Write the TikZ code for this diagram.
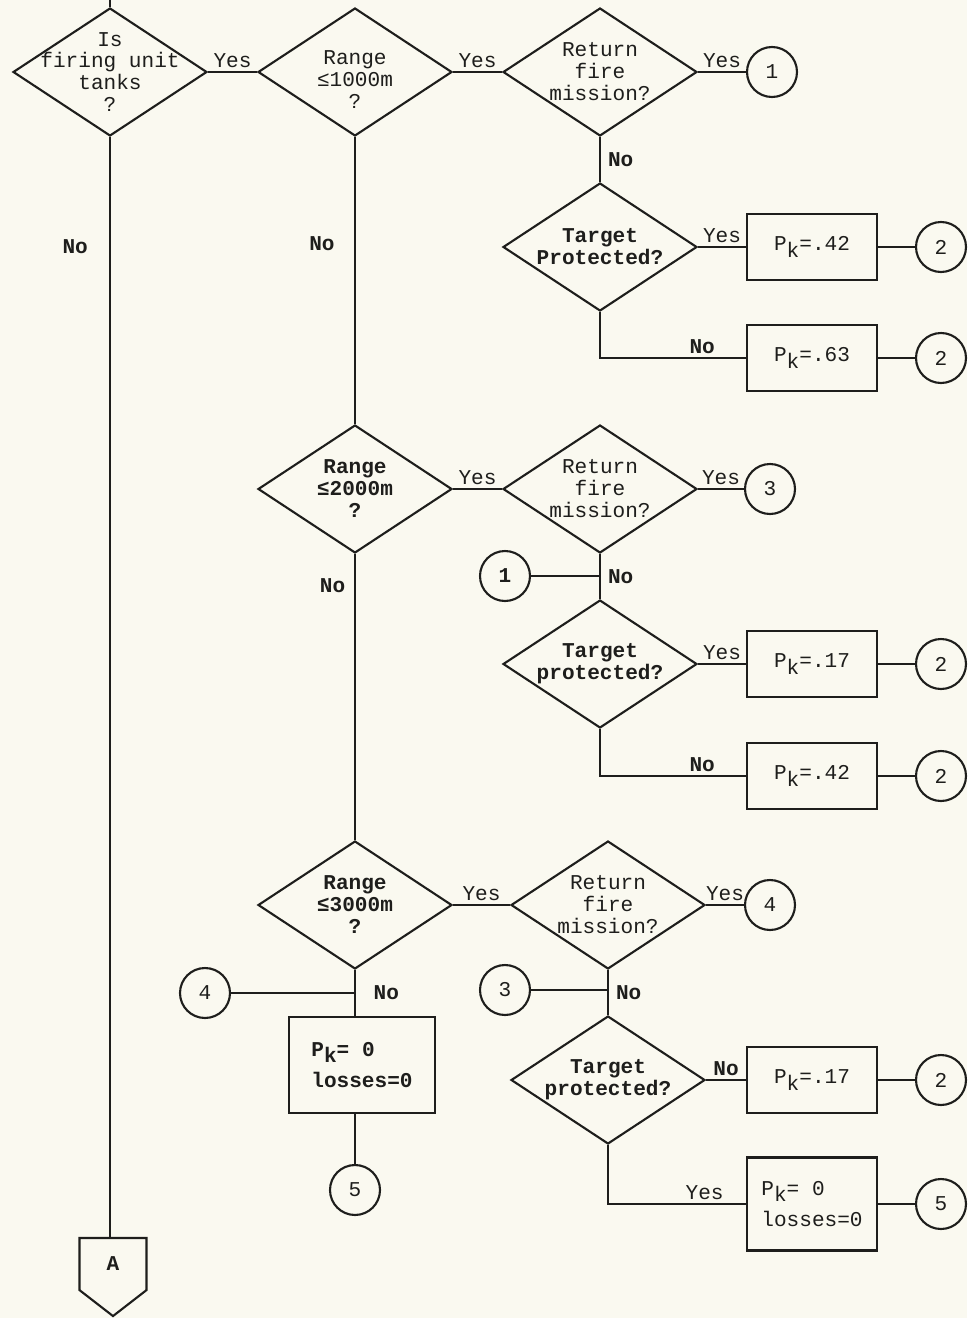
\documentclass[tikz,border=0pt]{standalone}
\usepackage{fontspec}
\setmainfont{Liberation Mono}
\usetikzlibrary{shapes.geometric,calc}
\definecolor{paper}{RGB}{250,249,240}
\definecolor{ink}{RGB}{30,30,28}
\newcommand{\Pk}{P\raisebox{-0.6ex}{k}}

\begin{document}
\begin{tikzpicture}[x=0.02cm,y=-0.02cm,line width=1.2pt,color=ink,
    every node/.style={font=\fontsize{12}{12.5}\selectfont},
    decision/.style={diamond,draw,inner sep=0pt,minimum width=3.88cm,minimum height=2.56cm},
    qtext/.style={align=center,inner sep=0pt},
    result/.style={rectangle,draw,minimum width=2.6cm,minimum height=1.32cm},
    stopbox/.style={rectangle,draw,align=left,minimum width=2.6cm,minimum height=1.86cm,
      font=\fontsize{12}{18}\selectfont},
    conn/.style={circle,draw,minimum size=1cm,inner sep=0pt},
    lbl/.style={inner sep=2pt},
    nob/.style={inner sep=2pt,font=\fontsize{12}{12.5}\selectfont\bfseries}]

    \fill[paper] (0,0) rectangle (967,1318);
    \useasboundingbox (0,0) rectangle (967,1318);

    % first column of questions
    \coordinate (entry) at (110,0);
    \node[decision] (tankq) at (110,72) {};
    \node[qtext] (tankqt) at (tankq) {Is\\firing unit\\tanks\\?};
    \node[minimum width=1.3cm,minimum height=1cm,inner sep=0pt,font=\fontsize{12}{12.5}\selectfont\bfseries] (offA) at (113,1264) {A};
    \draw (offA.north west) -- (offA.north east) -- (offA.south east) -- ($(offA.south)+(0,26)$) -- (offA.south west) -- cycle;

    % range <= 1000m
    \node[decision] (rng1) at (355,72) {};
    \node[qtext] (rng1t) at (355,80) {Range\\≤1000m\\?};
    \node[decision] (ret1) at (600,72) {};
    \node[qtext] (ret1t) at (ret1) {Return\\fire\\mission?};
    \node[conn] (c1a) at (772,72) {1};
    \node[decision] (tgt1) at (600,247) {};
    \node[qtext,font=\fontsize{12}{12.5}\selectfont\bfseries] (tgt1t) at (tgt1) {Target\\Protected?};
    \node[result] (pk1a) at (812,247) {\Pk=.42};
    \node[result] (pk1b) at (812,358) {\Pk=.63};
    \node[conn] (c2a) at (941,247) {2};
    \node[conn] (c2b) at (941,358) {2};

    % range <= 2000m
    \node[decision] (rng2) at (355,489) {};
    \node[qtext,font=\fontsize{12}{12.5}\selectfont\bfseries] (rng2t) at (rng2) {Range\\≤2000m\\?};
    \node[decision] (ret2) at (600,489) {};
    \node[qtext] (ret2t) at (ret2) {Return\\fire\\mission?};
    \node[conn] (c3a) at (770,489) {3};
    \node[conn,font=\fontsize{12}{12.5}\selectfont\bfseries] (c1b) at (505,576) {1};
    \node[decision] (tgt2) at (600,664) {};
    \node[qtext,font=\fontsize{12}{12.5}\selectfont\bfseries] (tgt2t) at (tgt2) {Target\\protected?};
    \node[result] (pk2a) at (812,664) {\Pk=.17};
    \node[result] (pk2b) at (812,776) {\Pk=.42};
    \node[conn] (c2c) at (941,664) {2};
    \node[conn] (c2d) at (941,776) {2};

    % range <= 3000m
    \node[decision] (rng3) at (355,905) {};
    \node[qtext,font=\fontsize{12}{12.5}\selectfont\bfseries] (rng3t) at (rng3) {Range\\≤3000m\\?};
    \node[decision] (ret3) at (608,905) {};
    \node[qtext] (ret3t) at (ret3) {Return\\fire\\mission?};
    \node[conn] (c4a) at (770,905) {4};
    \node[conn] (c4b) at (205,993) {4};
    \node[stopbox,minimum width=2.92cm,minimum height=1.92cm,font=\fontsize{12}{18}\selectfont\bfseries] (pk0a) at (362,1065) {\Pk= 0\\losses=0};
    \node[conn] (c5a) at (355,1190) {5};
    \node[conn] (c3b) at (505,990) {3};
    \node[decision] (tgt3) at (608,1080) {};
    \node[qtext,font=\fontsize{12}{12.5}\selectfont\bfseries] (tgt3t) at (tgt3) {Target\\protected?};
    \node[result] (pk3a) at (812,1080) {\Pk=.17};
    \node[stopbox] (pk3b) at (812,1204) {\Pk= 0\\losses=0};
    \node[conn] (c2e) at (941,1080) {2};
    \node[conn] (c5b) at (941,1204) {5};

    % connectors
    \draw (entry) -- (tankq.north);
    \draw (tankq.east) -- (rng1.west) node[midway,above,lbl]{Yes};
    \draw (tankq.south) -- (tankq.south |- offA.north) node[pos=0.1,left=10pt,nob]{No};

    \draw (rng1.south) -- (rng2.north) node[pos=0.37,left=9pt,nob]{No};
    \draw (rng1.east) -- (ret1.west) node[midway,above,lbl]{Yes};
    \draw (ret1.east) -- (c1a.west) node[midway,above,lbl]{Yes};
    \draw (ret1.south) -- (tgt1.north) node[midway,right=2pt,nob]{No};
    \draw (tgt1.east) -- (pk1a.west) node[midway,above,lbl]{Yes};
    \draw (tgt1.south) |- (pk1b.west) node[pos=0.85,above,nob]{No};
    \draw (pk1a.east) -- (c2a.west);
    \draw (pk1b.east) -- (c2b.west);

    \draw (rng2.south) -- (rng3.north) node[pos=0.11,left=3pt,nob]{No};
    \draw (rng2.east) -- (ret2.west) node[midway,above,lbl]{Yes};
    \draw (ret2.east) -- (c3a.west) node[midway,above,lbl]{Yes};
    \draw (ret2.south) -- (tgt2.north) node[midway,right=2pt,nob]{No};
    \draw (c1b.east) -- (c1b.east -| ret2.south);
    \draw (tgt2.east) -- (pk2a.west) node[midway,above,lbl]{Yes};
    \draw (tgt2.south) |- (pk2b.west) node[pos=0.85,above,nob]{No};
    \draw (pk2a.east) -- (c2c.west);
    \draw (pk2b.east) -- (c2d.west);

    \draw (rng3.east) -- (ret3.west) node[midway,above,lbl]{Yes};
    \draw (ret3.east) -- (c4a.west) node[midway,above,lbl]{Yes};
    \draw (rng3.south) -- (rng3.south |- pk0a.north) node[midway,right=8pt,nob]{No};
    \draw (c4b.east) -- (c4b.east -| rng3.south);
    \draw (pk0a.south -| c5a) -- (c5a.north);
    \draw (ret3.south) -- (tgt3.north) node[midway,right=2pt,nob]{No};
    \draw (c3b.east) -- (c3b.east -| ret3.south);
    \draw (tgt3.east) -- (pk3a.west) node[midway,above,nob]{No};
    \draw (tgt3.south) |- (pk3b.west) node[pos=0.85,above,lbl]{Yes};
    \draw (pk3a.east) -- (c2e.west);
    \draw (pk3b.east) -- (c5b.west);
\end{tikzpicture}
\end{document}
